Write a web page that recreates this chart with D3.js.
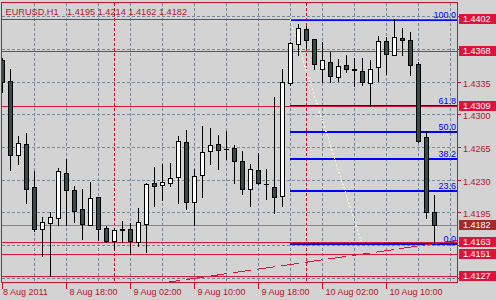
<!DOCTYPE html>
<html><head><meta charset="utf-8">
<script src="https://cdn.jsdelivr.net/npm/d3@7"></script>
<style>
html,body{margin:0;padding:0;background:#d3d3d3;overflow:hidden;}
svg{display:block;font-family:"Liberation Sans",Arial,sans-serif;}
</style></head><body>
<svg id="c" width="496" height="300"></svg>
<script>
// ---------- data ----------
const symbolLabel = "EURUSD,H1";
const headerOHLC = ["1.4195", "1.4214", "1.4162", "1.4182"];
const timeLabels = ["8 Aug 2011", "8 Aug 18:00", "9 Aug 02:00", "9 Aug 10:00", "9 Aug 18:00", "10 Aug 02:00", "10 Aug 10:00"];
const timeLabelBars = [0, 8, 16, 24, 32, 40, 48];
const daySeparatorBars = [14, 38];
const priceTicks = [1.4405, 1.4370, 1.4335, 1.4300, 1.4265, 1.4230, 1.4195, 1.4160, 1.4125];

const opens  = [1.4358,1.4336,1.4256,1.4268,1.4222,1.4177,1.4184,1.4189,1.4237,1.4219,
                1.4199,1.4182,1.4211,1.4178,1.4164,1.4177,1.4177,1.4163,1.4183,1.4226,
                1.4224,1.4227,1.4233,1.4270,1.4206,1.4235,1.4261,1.4268,1.4263,1.4264,
                1.4250,1.4220,1.4240,1.4225,1.4222,1.4213,1.4334,1.4375,1.4391,1.4381,
                1.4348,1.4356,1.4340,1.4353,1.4349,1.4346,1.4334,1.4351,1.4378,1.4364,
                1.4382,1.4380,1.4354,1.4276,1.4195];
const highs  = [1.4360,1.4348,1.4277,1.4280,1.4239,1.4190,1.4195,1.4243,1.4252,1.4223,
                1.4220,1.4228,1.4212,1.4180,1.4178,1.4186,1.4184,1.4200,1.4227,1.4244,
                1.4247,1.4248,1.4277,1.4283,1.4242,1.4287,1.4285,1.4278,1.4282,1.4267,
                1.4261,1.4247,1.4259,1.4242,1.4318,1.4348,1.4377,1.4397,1.4395,1.4381,
                1.4377,1.4367,1.4359,1.4363,1.4360,1.4360,1.4358,1.4384,1.4383,1.4402,
                1.4392,1.4388,1.4356,1.4282,1.4214];
const lows   = [1.4324,1.4240,1.4247,1.4205,1.4175,1.4148,1.4127,1.4182,1.4182,1.4185,
                1.4167,1.4182,1.4165,1.4163,1.4156,1.4163,1.4150,1.4159,1.4153,1.4202,
                1.4208,1.4223,1.4205,1.4199,1.4182,1.4211,1.4247,1.4241,1.4252,1.4226,
                1.4215,1.4202,1.4225,1.4209,1.4194,1.4202,1.4331,1.4364,1.4371,1.4349,
                1.4335,1.4335,1.4336,1.4345,1.4330,1.4331,1.4309,1.4336,1.4343,1.4363,
                1.4363,1.4342,1.4270,1.4189,1.4162];
const closes = [1.4335,1.4257,1.4269,1.4220,1.4177,1.4185,1.4190,1.4239,1.4219,1.4197,
                1.4183,1.4210,1.4177,1.4164,1.4176,1.4176,1.4164,1.4185,1.4225,1.4223,
                1.4228,1.4232,1.4271,1.4206,1.4234,1.4260,1.4267,1.4262,1.4263,1.4250,
                1.4220,1.4241,1.4227,1.4225,1.4212,1.4335,1.4376,1.4392,1.4379,1.4354,
                1.4358,1.4341,1.4352,1.4349,1.4347,1.4335,1.4349,1.4378,1.4365,1.4383,
                1.4380,1.4353,1.4271,1.4195,1.4182];

const levelLines = [1.4402, 1.4368, 1.4309, 1.4151, 1.4163, 1.4127];
const bidPrice = 1.4182;
const fibLevels = [0, 23.6, 38.2, 50, 61.8, 100];
const fibAnchorBars = [36, 45];
const fibPrices = [1.4402, 1.4162];
const trendBars = [20, 56.875];
const trendPrices = [1.4120, 1.41656];

// ---------- colours ----------
const BG = "#d3d3d3", GRID = "#778899", FG = "#b5152b", LVL = "#dc143c",
      BEAR = "#2f4f4f", BULL = "#ffffff", FIB = "#0000ff", BID = "#a52a2a";

// ---------- scales ----------
const svg = d3.select("#c");
const x = d3.scaleLinear().domain([-0.125, 56.875]).range([1, 457]);
const y = d3.scaleLinear().domain([1.412003, 1.442073]).range([283, 2]);
const row = p => Math.floor(y(p));
const col = i => Math.round(x(i));

svg.append("rect").attr("width", 496).attr("height", 300).attr("fill", BG);
svg.append("defs").append("clipPath").attr("id", "plotclip")
  .append("rect").attr("x", 2).attr("y", 3).attr("width", 455).attr("height", 279);

const plot = svg.append("g").attr("clip-path", "url(#plotclip)").attr("shape-rendering", "crispEdges");

// grid
plot.selectAll("line.hg").data(priceTicks).join("line")
  .attr("x1", 2).attr("x2", 457).attr("y1", d => row(d) + 0.5).attr("y2", d => row(d) + 0.5)
  .attr("stroke", GRID).attr("stroke-dasharray", "3,2");
const gridBars = d3.range(4, 57, 4);
plot.selectAll("line.vg").data(gridBars).join("line")
  .attr("x1", d => col(d) + 0.5).attr("x2", d => col(d) + 0.5).attr("y1", 3).attr("y2", 283)
  .attr("stroke", GRID).attr("stroke-dasharray", "3,2");
plot.selectAll("line.sep").data(daySeparatorBars).join("line")
  .attr("x1", d => col(d) + 0.5).attr("x2", d => col(d) + 0.5).attr("y1", 3).attr("y2", 283)
  .attr("stroke", "#c0102a").attr("stroke-dasharray", "3,2");

// bid line
plot.append("line").attr("x1", 2).attr("x2", 457)
  .attr("y1", row(bidPrice) + 0.5).attr("y2", row(bidPrice) + 0.5).attr("stroke", GRID);

// fibonacci levels
const fibPrice = l => fibPrices[1] + (fibPrices[0] - fibPrices[1]) * l / 100;
const fx0 = col(fibAnchorBars[0]);
plot.selectAll("line.fib").data(fibLevels).join("line")
  .attr("x1", fx0).attr("x2", 457)
  .attr("y1", d => row(fibPrice(d)) + 1).attr("y2", d => row(fibPrice(d)) + 1)
  .attr("stroke", FIB).attr("stroke-width", 2);

// horizontal level lines
plot.selectAll("line.lvl").data(levelLines).join("line")
  .attr("x1", 2).attr("x2", 457).attr("y1", d => row(d) + 0.5).attr("y2", d => row(d) + 0.5)
  .attr("stroke", LVL);

// fib connector (dotted)
plot.append("line")
  .attr("x1", x(fibAnchorBars[0])).attr("y1", y(fibPrices[0]))
  .attr("x2", x(fibAnchorBars[1])).attr("y2", y(fibPrices[1]))
  .attr("stroke", "#fbf3c4").attr("stroke-width", 1.2).attr("stroke-dasharray", "2,2");

// trend line
plot.append("line")
  .attr("x1", x(trendBars[0])).attr("y1", y(trendPrices[0]))
  .attr("x2", x(trendBars[1])).attr("y2", y(trendPrices[1]))
  .attr("stroke", LVL).attr("stroke-dasharray", "18,6");

// fib labels
plot.selectAll("text.fib").data(fibLevels).join("text")
  .attr("x", 456).attr("y", d => row(fibPrice(d)) - 1)
  .attr("text-anchor", "end").attr("font-size", 9).attr("fill", FIB)
  .text(d => d.toFixed(1));

// candles
const bars = d3.range(opens.length);
const cg = plot.selectAll("g.bar").data(bars).join("g");
cg.append("line")
  .attr("x1", i => col(i) + 0.5).attr("x2", i => col(i) + 0.5)
  .attr("y1", i => row(highs[i])).attr("y2", i => row(lows[i]) + 1)
  .attr("stroke", "#000");
cg.each(function(i) {
  const g = d3.select(this);
  const top = row(Math.max(opens[i], closes[i]));
  const bot = row(Math.min(opens[i], closes[i]));
  const c = col(i);
  if (bot === top) {
    g.append("line").attr("x1", c - 2).attr("x2", c + 3)
      .attr("y1", top + 0.5).attr("y2", top + 0.5).attr("stroke", "#000");
  } else {
    g.append("rect").attr("x", c - 1.5).attr("width", 4)
      .attr("y", top + 0.5).attr("height", bot - top)
      .attr("fill", closes[i] >= opens[i] ? BULL : BEAR).attr("stroke", "#000");
  }
});

// frame
svg.append("rect").attr("x", 1.5).attr("y", 2.5).attr("width", 456).attr("height", 280)
  .attr("fill", "none").attr("stroke", "#c8142e").attr("shape-rendering", "crispEdges");

// price axis
const boxed = levelLines.concat([bidPrice]);
const yAxis = d3.axisRight(y).tickValues(priceTicks).tickSize(3).tickPadding(3)
  .tickFormat(d => boxed.some(b => Math.abs(y(b) - y(d)) < 7) ? "" : d.toFixed(4));
const gy = svg.append("g").attr("transform", "translate(457,0)").call(yAxis);
gy.select(".domain").remove();
gy.selectAll(".tick").attr("transform", d => `translate(0,${row(d) + 0.5})`);
gy.selectAll(".tick line").attr("stroke", "#c8142e").attr("shape-rendering", "crispEdges").attr("x1", 0.5).attr("x2", 3.5);
gy.selectAll(".tick text").attr("fill", FG).attr("font-size", 9)
  .attr("font-family", '"Liberation Sans",Arial,sans-serif').attr("x", 6).attr("dy", "0.53em");

// boxed labels
const boxData = levelLines.map(p => ({p, c: LVL})).concat([{p: bidPrice, c: BID}]);
const bg = svg.selectAll("g.box").data(boxData).join("g");
bg.append("rect").attr("x", 459).attr("y", d => row(d.p) - 5).attr("width", 37).attr("height", 10)
  .attr("fill", d => d.c);
bg.append("text").attr("x", 463).attr("y", d => row(d.p) + 3)
  .attr("font-size", 9).attr("fill", "#fff").text(d => d.p.toFixed(4));

// time axis
const xAxis = d3.axisBottom(x).tickValues(timeLabelBars).tickSize(6).tickPadding(0)
  .tickFormat((d, i) => timeLabels[i]);
const gx = svg.append("g").attr("transform", "translate(0,283)").call(xAxis);
gx.select(".domain").remove();
gx.selectAll(".tick line").attr("stroke", "#c8142e").attr("shape-rendering", "crispEdges");
gx.selectAll(".tick text").attr("fill", FG).attr("font-size", 9)
  .attr("font-family", '"Liberation Sans",Arial,sans-serif')
  .attr("text-anchor", "start").attr("x", (d, i) => i === 0 ? 0.5 : 3);

// header
svg.append("text").attr("x", 5.5).attr("y", 15).attr("font-size", 9.2).attr("fill", FG).text(symbolLabel);
svg.append("text").attr("x", 67).attr("y", 15).attr("font-size", 9.2).attr("fill", FG)
  .attr("xml:space", "preserve").text(headerOHLC.join(" "));
</script>
</body></html>
